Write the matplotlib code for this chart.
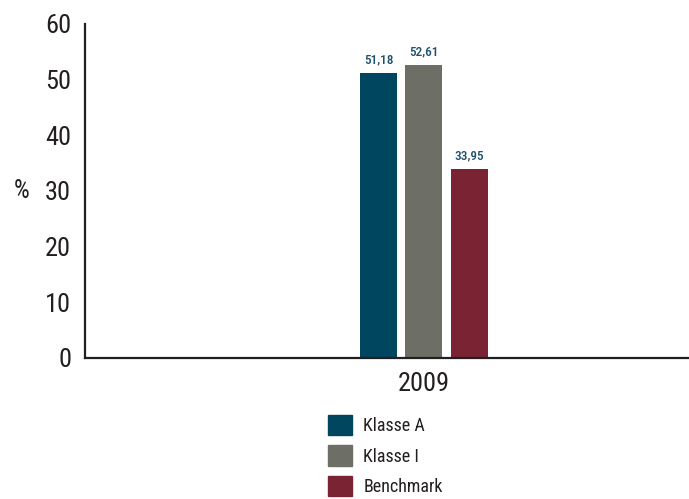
import matplotlib.pyplot as plt
from matplotlib.patches import Patch

plt.rcParams['font.family'] = ['Roboto Condensed', 'Liberation Sans Narrow', 'Roboto', 'DejaVu Sans']

years = ['2009']
series = ['Klasse A', 'Klasse I', 'Benchmark']
values = [51.18, 52.61, 33.95]
value_labels = ['51,18', '52,61', '33,95']
colors = ['#00465f', '#6d6e66', '#7a2333']

fig = plt.figure(figsize=(6.89, 4.99), dpi=100)
ax = fig.add_axes([0.1234, 0.2826, 0.8766, 0.6694])

bar_w = 0.122
step = 0.150
for i, (name, v, lab, c) in enumerate(zip(series, values, value_labels, colors)):
    x = (i - 1) * step
    ax.bar(x, v, width=bar_w, color=c, label=name)
    ax.text(x, v + 1.2, lab, ha='center', va='bottom', fontsize=9.5,
            color='#1d4f6e', fontweight='medium')

ax.set_xlim(-1.122, 0.878)
ax.set_ylim(0, 60)
ax.set_yticks(range(0, 61, 10))
ax.set_xticks([0])
ax.set_xticklabels(years)
ax.tick_params(axis='both', length=0, labelsize=19, colors='#231f20')
ax.tick_params(axis='y', pad=10)
ax.tick_params(axis='x', pad=10)
for s in ['top', 'right']:
    ax.spines[s].set_visible(False)
for s in ['left', 'bottom']:
    ax.spines[s].set_linewidth(1.6)
    ax.spines[s].set_color('#231f20')

ax.set_ylabel('%', rotation=0, fontsize=18, color='#231f20', va='center')
ax.yaxis.set_label_coords(-0.105, 0.5)

handles = [Patch(color=c, label=n) for n, c in zip(series, colors)]
fig.legend(handles=handles, loc='upper left', bbox_to_anchor=(0.476, 0.168),
           frameon=False, fontsize=13, handlelength=1.35, handleheight=1.35,
           handletextpad=0.6, labelspacing=0.55, borderpad=0, borderaxespad=0,
           labelcolor='#231f20')

fig.savefig('out.png', dpi=100)
